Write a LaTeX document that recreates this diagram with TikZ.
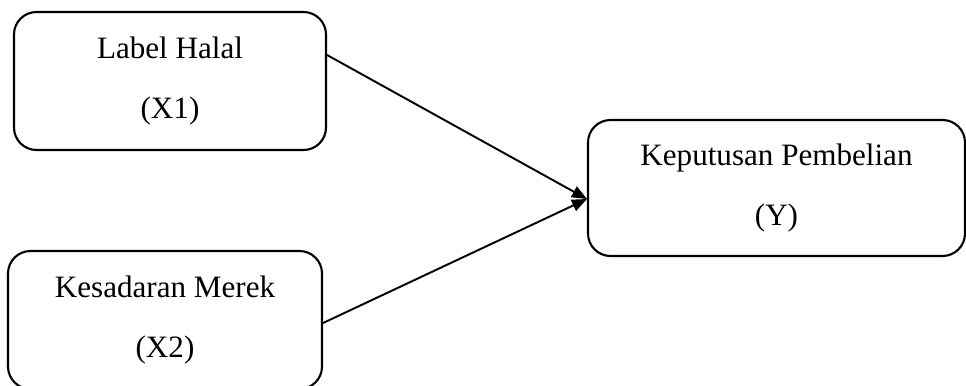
\documentclass[tikz,border=0pt]{standalone}
\usepackage{fontspec}
\setmainfont{Liberation Serif}
\usetikzlibrary{
    arrows.meta,
    positioning
}
\tikzset{
    line/.style = {
        line width = 1.1pt,
        ->,
        > = {
            Triangle[length=3mm, width=2.4mm]
        }
    },
    % Variable box:
    variable node/.style = {
        draw,
        rectangle,
        rounded corners = 4.5mm,
        line width = 1.2pt,
        align = center,
        inner sep = 0pt,
        font = \fontsize{17.7}{34}\selectfont
    }
}

\begin{document}
\begin{tikzpicture}
    \useasboundingbox (0, 0) rectangle (19.32, -7.70);
    \node [variable node, minimum width=6.24cm, minimum height=2.76cm]
        (x1) at (3.40, -1.62) {Label Halal\\(X1)};
    \node [variable node, minimum width=6.28cm, minimum height=2.76cm]
        (x2) at (3.30, -6.40) {Kesadaran Merek\\(X2)};
    \node [variable node, minimum width=7.54cm, minimum height=2.72cm]
        (y) at (15.53, -3.76) {Keputusan Pembelian\\(Y)};
    % Both arrows meet at one point.
    \coordinate (tip) at ([yshift=-0.22cm]y.west);
    \draw [line] ([yshift=0.52cm]x1.east) -- (tip);
    \draw [line] ([yshift=-0.06cm]x2.east) -- (tip);
\end{tikzpicture}
\end{document}
